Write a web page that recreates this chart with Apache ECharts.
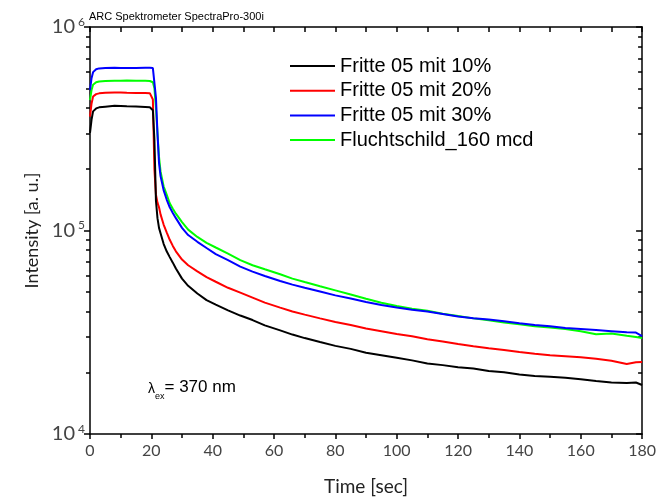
<!DOCTYPE html>
<html>
<head>
<meta charset="utf-8">
<script src="https://cdn.jsdelivr.net/npm/echarts@6/dist/echarts.min.js"></script>
<style>
html,body{margin:0;padding:0;background:#fff;}
#chart{width:659px;height:501px;}
</style>
</head>
<body>
<div id="chart"></div>
<script>
// ---- data (time in sec, intensity in a.u.) ----
const times = [0, 0.5, 1, 2, 3, 5, 8, 10, 12, 15, 18, 19.5, 20.5, 21, 21.5, 22, 22.5, 23, 24, 25,
  26, 27, 28, 30, 32, 35, 38, 41, 45, 49, 53, 57, 62, 66, 70, 75, 80, 85, 90, 95,
  100, 105, 110, 115, 120, 125, 130, 135, 140, 145, 150, 155, 160, 165, 170, 175, 178, 180];

const fritte10 = [302e3, 350e3, 385e3, 398e3, 403e3, 406e3, 410e3, 409e3, 408e3, 407e3, 405e3, 403e3, 390e3, 280e3, 140e3, 115e3, 103e3, 97e3, 86e3, 79e3,
  74e3, 69.5e3, 65e3, 58e3, 53.5e3, 49e3, 45.5e3, 43.2e3, 40.5e3, 38.2e3, 36.3e3, 34.2e3, 32.3e3, 30.8e3, 29.6e3, 28.3e3, 27.1e3, 26.2e3, 25.1e3, 24.4e3,
  23.7e3, 23e3, 22.2e3, 21.8e3, 21.3e3, 21e3, 20.4e3, 20.1e3, 19.6e3, 19.3e3, 19.1e3, 18.9e3, 18.6e3, 18.2e3, 17.9e3, 17.8e3, 17.9e3, 17.4e3];

const fritte20 = [363e3, 420e3, 455e3, 468e3, 472e3, 475e3, 476e3, 476e3, 475e3, 474e3, 474e3, 473e3, 440e3, 200e3, 150e3, 137e3, 130e3, 120e3, 107e3, 98e3,
  90e3, 84e3, 79e3, 72e3, 67.5e3, 63e3, 59e3, 56e3, 52.3e3, 49.5e3, 46.8e3, 44.2e3, 41.8e3, 40e3, 38.6e3, 37e3, 35.5e3, 34.3e3, 33e3, 32e3,
  31e3, 30.2e3, 29.2e3, 28.5e3, 27.7e3, 27e3, 26.4e3, 25.9e3, 25.3e3, 24.8e3, 24.4e3, 24.1e3, 23.8e3, 23.4e3, 22.9e3, 22.1e3, 22.5e3, 22.6e3];

const fritte30 = [490e3, 560e3, 600e3, 620e3, 626e3, 628e3, 630e3, 629e3, 628e3, 628e3, 630e3, 630e3, 628e3, 615e3, 450e3, 300e3, 215e3, 185e3, 158e3, 142e3,
  130e3, 122e3, 115e3, 103e3, 95e3, 88e3, 82e3, 76.5e3, 71.5e3, 66.5e3, 62.8e3, 59.8e3, 56.5e3, 54.2e3, 52.3e3, 50.2e3, 48e3, 46.3e3, 44.5e3, 43e3,
  41.8e3, 40.8e3, 40e3, 38.9e3, 37.8e3, 37.1e3, 36.5e3, 35.8e3, 35e3, 34.3e3, 33.8e3, 33.2e3, 32.8e3, 32.4e3, 32e3, 31.6e3, 31.5e3, 30.3e3];

const flucht160 = [437e3, 490e3, 520e3, 535e3, 540e3, 543e3, 545e3, 545e3, 546e3, 545e3, 544e3, 543e3, 535e3, 500e3, 400e3, 300e3, 230e3, 195e3, 165e3, 150e3,
  136e3, 128e3, 121e3, 110e3, 101e3, 93e3, 87e3, 82.5e3, 77e3, 71.5e3, 67.5e3, 64.5e3, 61e3, 58e3, 55.8e3, 53.2e3, 50.8e3, 48.5e3, 46.2e3, 44.2e3,
  42.6e3, 41.3e3, 40.3e3, 39e3, 38e3, 37e3, 36.2e3, 35.3e3, 34.6e3, 33.8e3, 33.4e3, 32.8e3, 32e3, 30.9e3, 31.2e3, 30.4e3, 30e3, 29.6e3];

const seriesNames = ['Fritte 05 mit 10%', 'Fritte 05 mit 20%', 'Fritte 05 mit 30%', 'Fluchtschild_160 mcd'];
const seriesColors = ['#000000', '#ff0000', '#0000ff', '#00ff00'];
const seriesValues = [fritte10, fritte20, fritte30, flucht160];

// minor log ticks (log10 positions of 2..9 x 10^n)
const minorLogTicks = [];
[4, 5].forEach(function (e) {
  for (let k = 2; k <= 9; k++) minorLogTicks.push(e + Math.log10(k));
});

const chart = echarts.init(document.getElementById('chart'), null, {renderer: 'canvas'});

const labelFont = 'Lato';
const axisColor = '#000';

const series = seriesValues.map(function (vals, i) {
  return {
    name: seriesNames[i],
    type: 'line',
    xAxisIndex: 0,
    yAxisIndex: 0,
    symbol: 'none',
    showSymbol: false,
    animation: false,
    lineStyle: {color: seriesColors[i], width: 2},
    itemStyle: {color: seriesColors[i]},
    z: 10 - i,
    data: times.map(function (t, j) { return [t, vals[j]]; })
  };
});

const option = {
  animation: false,
  backgroundColor: '#fff',
  title: {
    text: 'ARC Spektrometer SpectraPro-300i',
    left: 89, top: 11, padding: 0,
    textStyle: {fontFamily: 'Liberation Sans', fontSize: 11, fontWeight: 'normal', color: '#000'}
  },
  legend: {
    orient: 'vertical',
    left: 290, top: 56, padding: 0,
    icon: 'rect',
    itemWidth: 45, itemHeight: 2, itemGap: 4.7,
    textStyle: {fontFamily: 'Liberation Sans', fontSize: 20, color: '#000', lineHeight: 20},
    data: seriesNames
  },
  grid: {left: 90, right: 13, top: 27, bottom: 66, containLabel: false},
  xAxis: [{
    type: 'value', position: 'bottom',
    min: 0, max: 180, interval: 20,
    name: 'Time [sec]', nameLocation: 'middle', nameGap: 43,
    nameTextStyle: {fontFamily: labelFont, fontSize: 19, color: '#222'},
    axisLine: {show: true, lineStyle: {color: axisColor, width: 1.5}},
    axisTick: {show: true, inside: false, length: 5, lineStyle: {color: axisColor, width: 1.5}},
    minorTick: {show: true, splitNumber: 2, length: 4, lineStyle: {color: axisColor, width: 1.5}},
    axisLabel: {fontFamily: labelFont, fontSize: 16, color: '#444', margin: 9},
    splitLine: {show: false}
  }, {
    type: 'value', position: 'top',
    min: 0, max: 180, interval: 20,
    axisLine: {show: true, lineStyle: {color: axisColor, width: 1.5}},
    axisTick: {show: true, inside: true, length: 5, lineStyle: {color: axisColor, width: 1.5}},
    minorTick: {show: true, splitNumber: 2, length: 5, lineStyle: {color: axisColor, width: 1.5}},
    axisLabel: {show: false},
    splitLine: {show: false}
  }],
  yAxis: [{
    type: 'log', logBase: 10, position: 'left',
    min: 1e4, max: 1e6,
    name: 'Intensity [a. u.]', nameLocation: 'middle', nameGap: 48,
    nameTextStyle: {fontFamily: labelFont, fontSize: 18, color: '#222'},
    axisLine: {show: true, lineStyle: {color: axisColor, width: 1.5}},
    axisTick: {show: true, inside: false, length: 6, lineStyle: {color: axisColor, width: 1.5}},
    axisLabel: {
      margin: 5,
      formatter: function (v) { return '{b|10}{s|' + Math.round(Math.log10(v)) + '}'; },
      rich: {
        b: {fontFamily: labelFont, fontSize: 20, color: '#444', lineHeight: 22},
        s: {fontFamily: labelFont, fontSize: 12, color: '#444', lineHeight: 12, verticalAlign: 'top', padding: [0, 0, 0, 3]}
      }
    },
    splitLine: {show: false}
  }, {
    type: 'value', position: 'left',
    min: 4, max: 6,
    axisLine: {show: false},
    axisTick: {show: true, inside: false, length: 4, customValues: minorLogTicks, lineStyle: {color: axisColor, width: 1.5}},
    axisLabel: {show: false},
    splitLine: {show: false}
  }, {
    type: 'log', logBase: 10, position: 'right',
    min: 1e4, max: 1e6,
    axisLine: {show: true, lineStyle: {color: axisColor, width: 1.5}},
    axisTick: {show: true, inside: true, length: 6, lineStyle: {color: axisColor, width: 1.5}},
    axisLabel: {show: false},
    splitLine: {show: false}
  }, {
    type: 'value', position: 'right',
    min: 4, max: 6,
    axisLine: {show: false},
    axisTick: {show: true, inside: true, length: 4, customValues: minorLogTicks, lineStyle: {color: axisColor, width: 1.5}},
    axisLabel: {show: false},
    splitLine: {show: false}
  }],
  graphic: [{
    type: 'text',
    left: 148, top: 379,
    style: {
      text: '{l|λ}{e|ex}{t|= 370 nm}',
      rich: {
        l: {fontFamily: 'Liberation Sans', fontSize: 14, fill: '#000', lineHeight: 20, verticalAlign: 'bottom'},
        e: {fontFamily: 'Liberation Sans', fontSize: 9, fill: '#000', lineHeight: 10, verticalAlign: 'bottom', padding: [0, 0, -5, 0]},
        t: {fontFamily: 'Liberation Sans', fontSize: 17, fill: '#000', lineHeight: 20, verticalAlign: 'bottom'}
      }
    }
  }],
  series: series
};

chart.setOption(option);
</script>
</body>
</html>
